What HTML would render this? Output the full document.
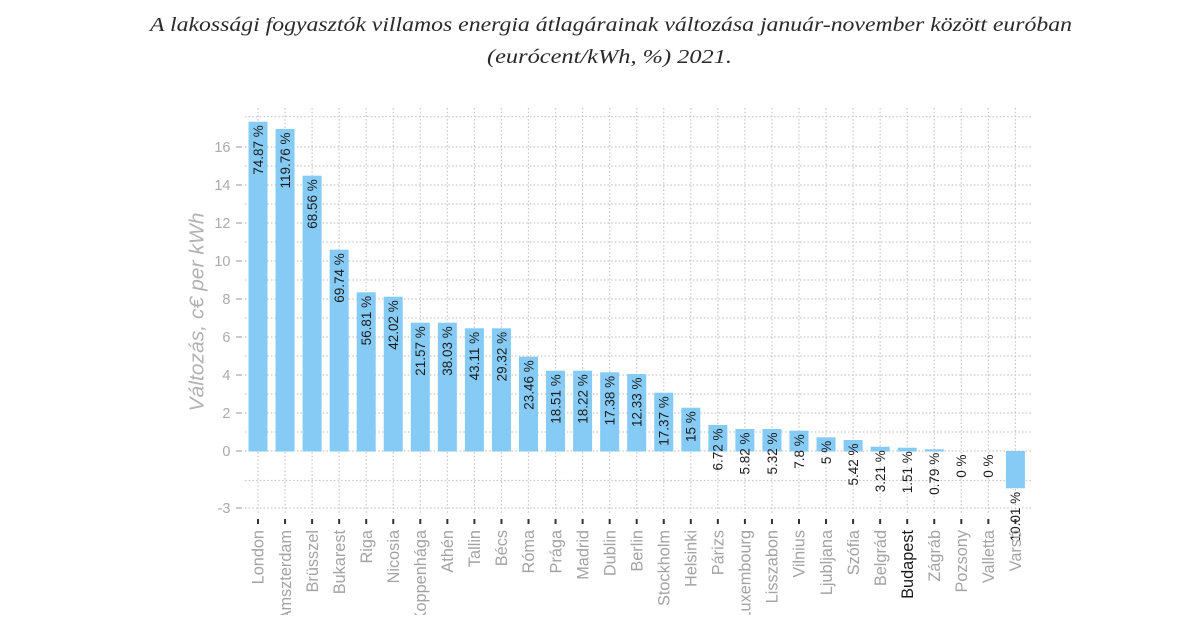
<!DOCTYPE html>
<html>
<head>
<meta charset="utf-8">
<style>
html,body{margin:0;padding:0;background:#fff;}
svg{display:block;}
</style>
</head>
<body>
<svg width="1200" height="630" viewBox="0 0 1200 630" xmlns="http://www.w3.org/2000/svg">
<defs>
<clipPath id="xclip"><rect x="0" y="0" width="1200" height="615"/></clipPath>
</defs>
<rect width="1200" height="630" fill="#fff"/>
<!-- Title -->
<g font-family="'Liberation Serif', serif" font-style="italic" fill="#2a2a2a" font-size="20">
<text x="611" y="31" text-anchor="middle" textLength="922" lengthAdjust="spacingAndGlyphs">A lakossági fogyasztók villamos energia átlagárainak változása január-november között euróban</text>
<text x="609.5" y="63" text-anchor="middle" textLength="245" lengthAdjust="spacingAndGlyphs">(eurócent/kWh, %) 2021.</text>
</g>

<!-- Grid -->
<g stroke="#c6c6c6" stroke-width="1.2" stroke-dasharray="1.5 2.2" fill="none">
<line x1="245" x2="1031" y1="116.7" y2="116.7"/>
<line x1="245" x2="1031" y1="147" y2="147"/>
<line x1="245" x2="1031" y1="166" y2="166"/>
<line x1="245" x2="1031" y1="185" y2="185"/>
<line x1="245" x2="1031" y1="204" y2="204"/>
<line x1="245" x2="1031" y1="223" y2="223"/>
<line x1="245" x2="1031" y1="242" y2="242"/>
<line x1="245" x2="1031" y1="261" y2="261"/>
<line x1="245" x2="1031" y1="280" y2="280"/>
<line x1="245" x2="1031" y1="299" y2="299"/>
<line x1="245" x2="1031" y1="318" y2="318"/>
<line x1="245" x2="1031" y1="337" y2="337"/>
<line x1="245" x2="1031" y1="356" y2="356"/>
<line x1="245" x2="1031" y1="375" y2="375"/>
<line x1="245" x2="1031" y1="394" y2="394"/>
<line x1="245" x2="1031" y1="413" y2="413"/>
<line x1="245" x2="1031" y1="432" y2="432"/>
<line x1="245" x2="1031" y1="451" y2="451"/>
<line x1="245" x2="1031" y1="480.5" y2="480.5"/>
<line x1="245" x2="1031" y1="508" y2="508"/>
</g>
<g stroke="#c6c6c6" stroke-width="1.2" stroke-dasharray="1.5 2.2" fill="none">
<line x1="258" x2="258" y1="108" y2="514"/>
<line x1="285.05" x2="285.05" y1="108" y2="514"/>
<line x1="312.1" x2="312.1" y1="108" y2="514"/>
<line x1="339.15" x2="339.15" y1="108" y2="514"/>
<line x1="366.2" x2="366.2" y1="108" y2="514"/>
<line x1="393.25" x2="393.25" y1="108" y2="514"/>
<line x1="420.3" x2="420.3" y1="108" y2="514"/>
<line x1="447.35" x2="447.35" y1="108" y2="514"/>
<line x1="474.4" x2="474.4" y1="108" y2="514"/>
<line x1="501.45" x2="501.45" y1="108" y2="514"/>
<line x1="528.5" x2="528.5" y1="108" y2="514"/>
<line x1="555.55" x2="555.55" y1="108" y2="514"/>
<line x1="582.6" x2="582.6" y1="108" y2="514"/>
<line x1="609.65" x2="609.65" y1="108" y2="514"/>
<line x1="636.7" x2="636.7" y1="108" y2="514"/>
<line x1="663.75" x2="663.75" y1="108" y2="514"/>
<line x1="690.8" x2="690.8" y1="108" y2="514"/>
<line x1="717.85" x2="717.85" y1="108" y2="514"/>
<line x1="744.9" x2="744.9" y1="108" y2="514"/>
<line x1="771.95" x2="771.95" y1="108" y2="514"/>
<line x1="799" x2="799" y1="108" y2="514"/>
<line x1="826.05" x2="826.05" y1="108" y2="514"/>
<line x1="853.1" x2="853.1" y1="108" y2="514"/>
<line x1="880.15" x2="880.15" y1="108" y2="514"/>
<line x1="907.2" x2="907.2" y1="108" y2="514"/>
<line x1="934.25" x2="934.25" y1="108" y2="514"/>
<line x1="961.3" x2="961.3" y1="108" y2="514"/>
<line x1="988.35" x2="988.35" y1="108" y2="514"/>
<line x1="1015.4" x2="1015.4" y1="108" y2="514"/>
</g>

<!-- Bars -->
<g fill="#86cbf6">
<rect x="248.5" y="121.7" width="19" height="329.8"/>
<rect x="275.55" y="129" width="19" height="322.5"/>
<rect x="302.6" y="175.7" width="19" height="275.8"/>
<rect x="329.65" y="249.7" width="19" height="201.8"/>
<rect x="356.7" y="292.3" width="19" height="159.2"/>
<rect x="383.75" y="296.7" width="19" height="154.8"/>
<rect x="410.8" y="322.7" width="19" height="128.8"/>
<rect x="437.85" y="322.7" width="19" height="128.8"/>
<rect x="464.9" y="328.3" width="19" height="123.2"/>
<rect x="491.95" y="328.3" width="19" height="123.2"/>
<rect x="519" y="356.7" width="19" height="94.8"/>
<rect x="546.05" y="370.7" width="19" height="80.8"/>
<rect x="573.1" y="370.7" width="19" height="80.8"/>
<rect x="600.15" y="372.3" width="19" height="79.2"/>
<rect x="627.2" y="374" width="19" height="77.5"/>
<rect x="654.25" y="392.7" width="19" height="58.8"/>
<rect x="681.3" y="407.7" width="19" height="43.8"/>
<rect x="708.35" y="425" width="19" height="26.5"/>
<rect x="735.4" y="429" width="19" height="22.5"/>
<rect x="762.45" y="429" width="19" height="22.5"/>
<rect x="789.5" y="430.7" width="19" height="20.8"/>
<rect x="816.55" y="437.3" width="19" height="14.2"/>
<rect x="843.6" y="440" width="19" height="11.5"/>
<rect x="870.65" y="446.7" width="19" height="4.8"/>
<rect x="897.7" y="447.7" width="19" height="3.8"/>
<rect x="924.75" y="449.3" width="19" height="2.2"/>
<rect x="1005.9" y="451" width="19" height="37.3"/>
</g>

<!-- Bar labels (rotated, end at top) -->
<g font-family="'Liberation Sans', sans-serif" font-size="13.5" fill="#1c1c1c" text-anchor="end">
<text transform="translate(262.8,125.2) rotate(-90)">74.87 %</text>
<text transform="translate(289.85,132.5) rotate(-90)">119.76 %</text>
<text transform="translate(316.9,179.2) rotate(-90)">68.56 %</text>
<text transform="translate(343.95,253.2) rotate(-90)">69.74 %</text>
<text transform="translate(371,295.8) rotate(-90)">56.81 %</text>
<text transform="translate(398.05,300.2) rotate(-90)">42.02 %</text>
<text transform="translate(425.1,326.2) rotate(-90)">21.57 %</text>
<text transform="translate(452.15,326.2) rotate(-90)">38.03 %</text>
<text transform="translate(479.2,331.8) rotate(-90)">43.11 %</text>
<text transform="translate(506.25,331.8) rotate(-90)">29.32 %</text>
<text transform="translate(533.3,360.2) rotate(-90)">23.46 %</text>
<text transform="translate(560.35,374.2) rotate(-90)">18.51 %</text>
<text transform="translate(587.4,374.2) rotate(-90)">18.22 %</text>
<text transform="translate(614.45,375.8) rotate(-90)">17.38 %</text>
<text transform="translate(641.5,377.5) rotate(-90)">12.33 %</text>
<text transform="translate(668.55,396.2) rotate(-90)">17.37 %</text>
<text transform="translate(695.6,411.2) rotate(-90)">15 %</text>
<text transform="translate(722.65,428.5) rotate(-90)">6.72 %</text>
<text transform="translate(749.7,432.5) rotate(-90)">5.82 %</text>
<text transform="translate(776.75,432.5) rotate(-90)">5.32 %</text>
<text transform="translate(803.8,434.2) rotate(-90)">7.8 %</text>
<text transform="translate(830.85,440.8) rotate(-90)">5 %</text>
<text transform="translate(857.9,443.5) rotate(-90)">5.42 %</text>
<text transform="translate(884.95,450.2) rotate(-90)">3.21 %</text>
<text transform="translate(912,451.2) rotate(-90)">1.51 %</text>
<text transform="translate(939.05,452.8) rotate(-90)">0.79 %</text>
<text transform="translate(966.1,454.5) rotate(-90)">0 %</text>
<text transform="translate(993.15,454.5) rotate(-90)">0 %</text>
<text transform="translate(1020.2,491.8) rotate(-90)">10.01 %</text>
</g>

<!-- Y axis ticks and labels -->
<g stroke="#b8b8b8" stroke-width="1.5">
<line x1="236" x2="242" y1="147" y2="147"/>
<line x1="236" x2="242" y1="185" y2="185"/>
<line x1="236" x2="242" y1="223" y2="223"/>
<line x1="236" x2="242" y1="261" y2="261"/>
<line x1="236" x2="242" y1="299" y2="299"/>
<line x1="236" x2="242" y1="337" y2="337"/>
<line x1="236" x2="242" y1="375" y2="375"/>
<line x1="236" x2="242" y1="413" y2="413"/>
<line x1="236" x2="242" y1="451" y2="451"/>
<line x1="236" x2="242" y1="508" y2="508"/>
</g>
<g font-family="'Liberation Sans', sans-serif" font-size="14.5" fill="#ababab" text-anchor="end">
<text x="230.5" y="152.2">16</text>
<text x="230.5" y="190.2">14</text>
<text x="230.5" y="228.2">12</text>
<text x="230.5" y="266.2">10</text>
<text x="230.5" y="304.2">8</text>
<text x="230.5" y="342.2">6</text>
<text x="230.5" y="380.2">4</text>
<text x="230.5" y="418.2">2</text>
<text x="230.5" y="456.2">0</text>
<text x="230.5" y="513.2">-3</text>
</g>

<!-- Y axis title -->
<text transform="translate(203.5,312) rotate(-90)" font-family="'Liberation Sans', sans-serif" font-style="italic" font-size="20.5" fill="#b2b2b2" text-anchor="middle" textLength="199" lengthAdjust="spacingAndGlyphs">Változás, c€ per kWh</text>

<!-- X ticks -->
<g stroke="#333" stroke-width="2">
<line x1="258" x2="258" y1="519" y2="524"/>
<line x1="285.05" x2="285.05" y1="519" y2="524"/>
<line x1="312.1" x2="312.1" y1="519" y2="524"/>
<line x1="339.15" x2="339.15" y1="519" y2="524"/>
<line x1="366.2" x2="366.2" y1="519" y2="524"/>
<line x1="393.25" x2="393.25" y1="519" y2="524"/>
<line x1="420.3" x2="420.3" y1="519" y2="524"/>
<line x1="447.35" x2="447.35" y1="519" y2="524"/>
<line x1="474.4" x2="474.4" y1="519" y2="524"/>
<line x1="501.45" x2="501.45" y1="519" y2="524"/>
<line x1="528.5" x2="528.5" y1="519" y2="524"/>
<line x1="555.55" x2="555.55" y1="519" y2="524"/>
<line x1="582.6" x2="582.6" y1="519" y2="524"/>
<line x1="609.65" x2="609.65" y1="519" y2="524"/>
<line x1="636.7" x2="636.7" y1="519" y2="524"/>
<line x1="663.75" x2="663.75" y1="519" y2="524"/>
<line x1="690.8" x2="690.8" y1="519" y2="524"/>
<line x1="717.85" x2="717.85" y1="519" y2="524"/>
<line x1="744.9" x2="744.9" y1="519" y2="524"/>
<line x1="771.95" x2="771.95" y1="519" y2="524"/>
<line x1="799" x2="799" y1="519" y2="524"/>
<line x1="826.05" x2="826.05" y1="519" y2="524"/>
<line x1="853.1" x2="853.1" y1="519" y2="524"/>
<line x1="880.15" x2="880.15" y1="519" y2="524"/>
<line x1="907.2" x2="907.2" y1="519" y2="524"/>
<line x1="934.25" x2="934.25" y1="519" y2="524"/>
<line x1="961.3" x2="961.3" y1="519" y2="524"/>
<line x1="988.35" x2="988.35" y1="519" y2="524"/>
<line x1="1015.4" x2="1015.4" y1="519" y2="524"/>
</g>

<!-- X labels -->
<g clip-path="url(#xclip)" font-family="'Liberation Sans', sans-serif" font-size="16.3" fill="#a3a3a3" text-anchor="end">
<text transform="translate(263.7,530) rotate(-90)">London</text>
<text transform="translate(290.75,530) rotate(-90)">Amszterdam</text>
<text transform="translate(317.8,530) rotate(-90)">Brüsszel</text>
<text transform="translate(344.85,530) rotate(-90)">Bukarest</text>
<text transform="translate(371.9,530) rotate(-90)">Riga</text>
<text transform="translate(398.95,530) rotate(-90)">Nicosia</text>
<text transform="translate(426,530) rotate(-90)">Koppenhága</text>
<text transform="translate(453.05,530) rotate(-90)">Athén</text>
<text transform="translate(480.1,530) rotate(-90)">Tallin</text>
<text transform="translate(507.15,530) rotate(-90)">Bécs</text>
<text transform="translate(534.2,530) rotate(-90)">Róma</text>
<text transform="translate(561.25,530) rotate(-90)">Prága</text>
<text transform="translate(588.3,530) rotate(-90)">Madrid</text>
<text transform="translate(615.35,530) rotate(-90)">Dublin</text>
<text transform="translate(642.4,530) rotate(-90)">Berlin</text>
<text transform="translate(669.45,530) rotate(-90)">Stockholm</text>
<text transform="translate(696.5,530) rotate(-90)">Helsinki</text>
<text transform="translate(723.55,530) rotate(-90)">Párizs</text>
<text transform="translate(750.6,530) rotate(-90)">Luxembourg</text>
<text transform="translate(777.65,530) rotate(-90)">Lisszabon</text>
<text transform="translate(804.7,530) rotate(-90)">Vilnius</text>
<text transform="translate(831.75,530) rotate(-90)">Ljubljana</text>
<text transform="translate(858.8,530) rotate(-90)">Szófia</text>
<text transform="translate(885.85,530) rotate(-90)">Belgrád</text>
<text transform="translate(912.9,530) rotate(-90)" fill="#1a1a1a">Budapest</text>
<text transform="translate(939.95,530) rotate(-90)">Zágráb</text>
<text transform="translate(967,530) rotate(-90)">Pozsony</text>
<text transform="translate(994.05,530) rotate(-90)">Valletta</text>
<text transform="translate(1021.1,530) rotate(-90)">Varsó</text>
</g>
</svg>
</body>
</html>
